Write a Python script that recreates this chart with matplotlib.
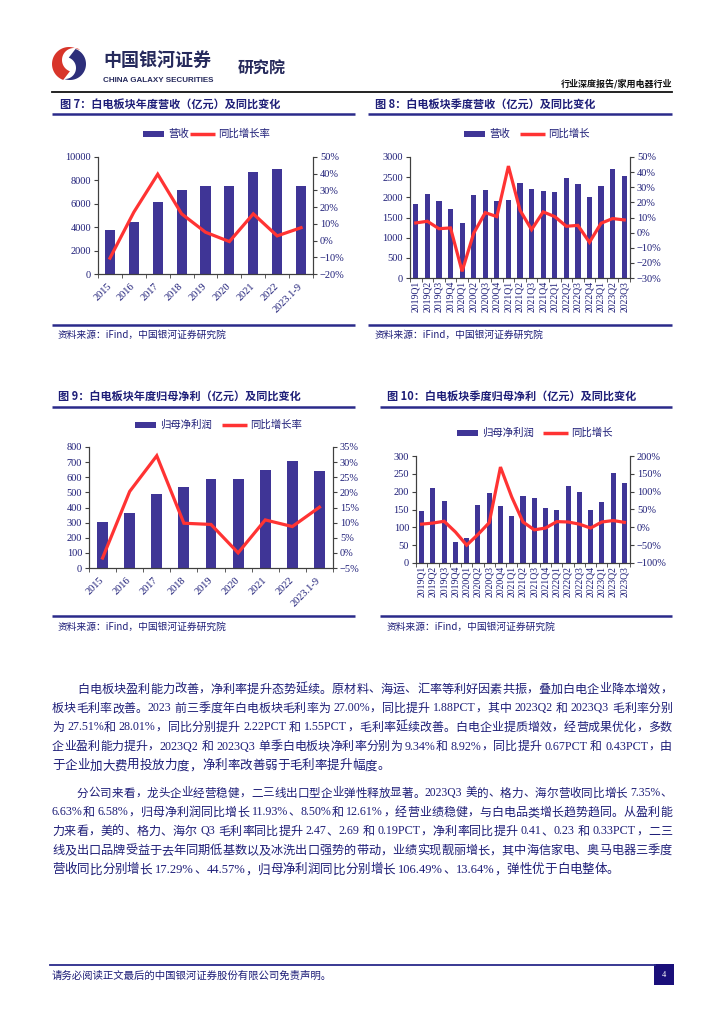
import re
import matplotlib
matplotlib.use('Agg')
import matplotlib.pyplot as plt
from matplotlib.patches import Rectangle, Polygon
import numpy as np

plt.rcParams['font.family'] = ['Noto Sans CJK SC', 'DejaVu Sans']

# ---------------- data ----------------
years = ['2015', '2016', '2017', '2018', '2019', '2020', '2021', '2022', '2023.1-9']
quarters = ['2019Q1', '2019Q2', '2019Q3', '2019Q4', '2020Q1', '2020Q2', '2020Q3', '2020Q4',
            '2021Q1', '2021Q2', '2021Q3', '2021Q4', '2022Q1', '2022Q2', '2022Q3', '2022Q4',
            '2023Q1', '2023Q2', '2023Q3']

rev_annual = [3770, 4420, 6180, 7170, 7540, 7480, 8700, 8950, 7480]
rev_annual_yoy = [-10.5, 17.0, 39.7, 16.0, 5.0, -0.6, 16.0, 2.8, 7.7]

rev_quarter = [1826, 2083, 1917, 1711, 1355, 2066, 2174, 1901, 1942, 2364, 2215, 2149,
               2132, 2471, 2322, 2017, 2281, 2694, 2521]
rev_quarter_yoy = [6.4, 7.5, 2.6, 3.1, -25.6, -0.4, 13.2, 10.6, 44.0, 14.8, 2.0, 13.7,
                   10.6, 4.2, 4.8, -6.4, 6.2, 9.3, 8.4]

np_annual = [304, 366, 487, 533, 586, 586, 650, 707, 643]
np_annual_yoy = [-1.7, 20.3, 32.1, 9.8, 9.4, 0.0, 10.9, 8.7, 15.1]

np_quarter = [145, 210, 175, 59, 70, 163, 197, 159, 131, 187, 182, 153,
              150, 215, 198, 150, 171, 252, 225]
np_quarter_yoy = [9, 12, 17, -13, -50, -20, 13, 169, 85, 15, -7, -2,
                  16, 15, 9, -2, 15, 19, 14]

# ---------------- style ----------------
W, H = 724, 1024
NAVY = '#1e1e78'
BAR = '#3f3596'
RED = '#ff3333'
LINE_NAVY = '#2a2a8a'
SERIF = 'Liberation Serif'

fig = plt.figure(figsize=(W / 100, H / 100), dpi=100)
bg = fig.add_axes([0, 0, 1, 1])
bg.set_xlim(0, W)
bg.set_ylim(H, 0)
bg.axis('off')


def px_axes(l, t, r, b):
    return fig.add_axes([l / W, 1 - b / H, (r - l) / W, (b - t) / H])


def pct(v):
    return ('\u2212' if v < 0 else '') + f'{abs(v)}%'


def make_chart(box, cats, bars, yoy, ylim_l, step_l, ylim_r, step_r, rot, barw):
    ax = px_axes(*box)
    x = np.arange(len(cats))
    ax.bar(x, bars, width=barw, color=BAR, zorder=2)
    ax.set_xlim(-0.5, len(cats) - 0.5)
    ax.set_ylim(*ylim_l)
    lt = np.arange(ylim_l[0], ylim_l[1] + step_l / 2, step_l)
    ax.set_yticks(lt)
    ax.set_yticklabels([str(int(v)) for v in lt], fontfamily=SERIF, fontsize=7.5, color=NAVY)
    ax.set_xticks(x)
    if rot == 45:
        ax.set_xticklabels(cats, rotation=45, ha='right', va='center', rotation_mode='anchor',
                           fontfamily=SERIF, fontsize=7.5, color=NAVY)
        ax.tick_params(axis='x', which='major', length=0, pad=8)
    else:
        ax.set_xticklabels(cats, rotation=90, ha='center', va='top',
                           fontfamily=SERIF, fontsize=7, color=NAVY)
        ax.tick_params(axis='x', which='major', length=0, pad=2)
    ax.set_xticks(np.arange(-0.5, len(cats), 1), minor=True)
    ax.tick_params(axis='x', which='minor', length=3, direction='out', color='#404040')
    ax.tick_params(axis='y', length=3, direction='out', color='#404040', pad=2)
    ax2 = ax.twinx()
    ax2.plot(x, yoy, color=RED, lw=2.3, zorder=3, solid_joinstyle='miter')
    ax2.set_ylim(*ylim_r)
    rt = np.arange(ylim_r[0], ylim_r[1] + step_r / 2, step_r)
    ax2.set_yticks(rt)
    ax2.set_yticklabels([pct(int(v)) for v in rt], fontfamily=SERIF, fontsize=7.5, color=NAVY)
    ax2.tick_params(axis='y', length=3, direction='out', color='#404040', pad=2)
    for a in (ax, ax2):
        a.spines['top'].set_visible(False)
        for s in ('left', 'right', 'bottom'):
            a.spines[s].set_color('#404040')
            a.spines[s].set_linewidth(0.8)
    return ax, ax2


make_chart((98, 157, 313, 274), years, rev_annual, rev_annual_yoy,
           (0, 10000), 2000, (-20, 50), 10, 45, 0.42)
make_chart((410, 157, 630, 278), quarters, rev_quarter, rev_quarter_yoy,
           (0, 3000), 500, (-30, 50), 10, 90, 0.45)
make_chart((89, 447, 333, 568), years, np_annual, np_annual_yoy,
           (0, 800), 100, (-5, 35), 5, 45, 0.4)
make_chart((416, 456, 630, 563), quarters, np_quarter, np_quarter_yoy,
           (0, 300), 50, (-100, 200), 50, 90, 0.45)

# ---------------- chart frames ----------------
titles = [
    (60, 105, '图 7：白电板块年度营收（亿元）及同比变化', (52, 355, 114), (52, 355, 325), (58, 335)),
    (375, 105, '图 8：白电板块季度营收（亿元）及同比变化', (368, 672, 114), (368, 672, 325), (375, 335)),
    (58, 397, '图 9：白电板块年度归母净利（亿元）及同比变化', (52, 355, 407), (52, 355, 616), (58, 627)),
    (387, 397, '图 10：白电板块季度归母净利（亿元）及同比变化', (380, 672, 407), (380, 672, 616), (387, 627)),
]
for tx, ty, t, ul, bl, src in titles:
    bg.text(tx, ty, t, fontsize=8, fontweight='bold', color=NAVY, ha='left', va='center')
    bg.plot([ul[0], ul[1]], [ul[2], ul[2]], color=LINE_NAVY, lw=1.8, solid_capstyle='butt')
    bg.plot([bl[0], bl[1]], [bl[2], bl[2]], color=LINE_NAVY, lw=1.8, solid_capstyle='butt')
    bg.text(src[0], src[1], '资料来源：iFind，中国银河证券研究院', fontsize=7, color=NAVY,
            ha='left', va='center', style='italic')

legends = [
    (143, 134, '营收', 190, '同比增长率'),
    (464, 134, '营收', 520, '同比增长'),
    (135, 425, '归母净利润', 222, '同比增长率'),
    (457, 433, '归母净利润', 543, '同比增长'),
]
for bx, by, bl_, lx, ll in legends:
    bg.add_patch(Rectangle((bx, by - 3), 21, 6, color=BAR, lw=0))
    bg.text(bx + 25, by, bl_, fontsize=7.5, color=NAVY, ha='left', va='center')
    bg.plot([lx, lx + 25], [by, by], color=RED, lw=2.5, solid_capstyle='butt')
    bg.text(lx + 28, by, ll, fontsize=7.5, color=NAVY, ha='left', va='center')

# ---------------- header ----------------
def arc(cx, cy, r, a0, a1, n=40):
    a = np.radians(np.linspace(a0, a1, n))
    return np.column_stack([cx + r * np.cos(a), cy - r * np.sin(a)])

red_pts = np.vstack([arc(69, 64, 17, 60, 250), arc(74, 60, 12, 250, 60)])
navy_pts = np.vstack([arc(70, 64, 16, 250, 430), arc(65, 68, 11, 430, 250)])
bg.add_patch(Polygon(red_pts, closed=True, color='#d8352a', lw=0))
bg.add_patch(Polygon(navy_pts, closed=True, color='#2d2f7a', lw=0))

bg.text(103, 60, '中国银河证券', fontsize=13, fontweight='bold', color='#262a5c', ha='left', va='center')
bg.text(103, 80, 'CHINA GALAXY SECURITIES', fontsize=5.8, fontweight='bold', color='#262a5c',
        ha='left', va='center', family='Liberation Sans')
bg.text(238, 69, '研究院', fontsize=11.5, fontweight='bold', color='#262a5c', ha='left', va='center')
bg.text(672, 84, '行业深度报告/家用电器行业', fontsize=6.5, color='#111111', ha='right', va='center',
        fontweight='bold')
bg.plot([52, 672], [92, 92], color='#111111', lw=1.3)

# ---------------- body text ----------------
para1 = [
    '白电板块盈利能力改善，净利率提升态势延续。原材料、海运、汇率等利好因素共振，叠加白电企业降本增效，',
    '板块毛利率改善。2023 前三季度年白电板块毛利率为 27.00%，同比提升 1.88PCT，其中 2023Q2 和 2023Q3 毛利率分别',
    '为 27.51%和 28.01%，同比分别提升 2.22PCT 和 1.55PCT，毛利率延续改善。白电企业提质增效，经营成果优化，多数',
    '企业盈利能力提升，2023Q2 和 2023Q3 单季白电板块净利率分别为 9.34%和 8.92%，同比提升 0.67PCT 和 0.43PCT，由',
    '于企业加大费用投放力度，净利率改善弱于毛利率提升幅度。',
]
para2 = [
    '分公司来看，龙头企业经营稳健，二三线出口型企业弹性释放显著。2023Q3 美的、格力、海尔营收同比增长 7.35%、',
    '6.63%和 6.58%，归母净利润同比增长 11.93%、8.50%和 12.61%，经营业绩稳健，与白电品类增长趋势趋同。从盈利能',
    '力来看，美的、格力、海尔 Q3 毛利率同比提升 2.47、2.69 和 0.19PCT，净利率同比提升 0.41、0.23 和 0.33PCT，二三',
    '线及出口品牌受益于去年同期低基数以及冰洗出口强势的带动，业绩实现靓丽增长，其中海信家电、奥马电器三季度',
    '营收同比分别增长 17.29%、44.57%，归母净利润同比分别增长 106.49%、13.64%，弹性优于白电整体。',
]

renderer = fig.canvas.get_renderer()


def is_ascii(tok):
    return all(ord(c) < 128 for c in tok)


def tok_kw(tok, fs):
    if is_ascii(tok):
        return dict(fontsize=fs, family=SERIF)
    return dict(fontsize=fs, family=['Noto Sans CJK SC', 'DejaVu Sans'])


def tw(tok, fs):
    if tok == ' ':
        return tw('x x', fs) - tw('xx', fs)
    t = bg.text(0, 0, tok, **tok_kw(tok, fs))
    w = t.get_window_extent(renderer).width
    t.remove()
    return w


def draw_line(s, x0, x1, y, fs, justify):
    toks = re.findall(r'[0-9A-Za-z.%]+| |.', s)
    ws = [tw(t, fs) for t in toks]
    nat = sum(ws)
    target = x1 - x0
    if nat > target:
        fs = fs * target / nat
        ws = [tw(t, fs) for t in toks]
        nat = sum(ws)
    gap = (target - nat) / (len(toks) - 1) if (justify and len(toks) > 1) else 0
    x = x0
    for t, w in zip(toks, ws):
        if t != ' ':
            bg.text(x, y, t, color=NAVY, ha='left', va='center', **tok_kw(t, fs))
        x += w + gap


def draw_para(lines, y0, dy=19.2, fs=9):
    for i, ln in enumerate(lines):
        x0 = 77 if i == 0 else 52
        draw_line(ln, x0, 672, y0 + i * dy, fs, i < len(lines) - 1)


draw_para(para1, 689)
draw_para(para2, 793)

# ---------------- footer ----------------
bg.plot([50, 655], [965, 965], color=LINE_NAVY, lw=1.3)
bg.add_patch(Rectangle((654, 964), 20, 21, color='#1a0f7a', lw=0))
bg.text(664, 975, '4', color='white', fontsize=6, ha='center', va='center', family=SERIF)
bg.text(52, 976, '请务必阅读正文最后的中国银河证券股份有限公司免责声明。', fontsize=7.5,
        color=NAVY, ha='left', va='center')

fig.savefig('out.png', dpi=100)
